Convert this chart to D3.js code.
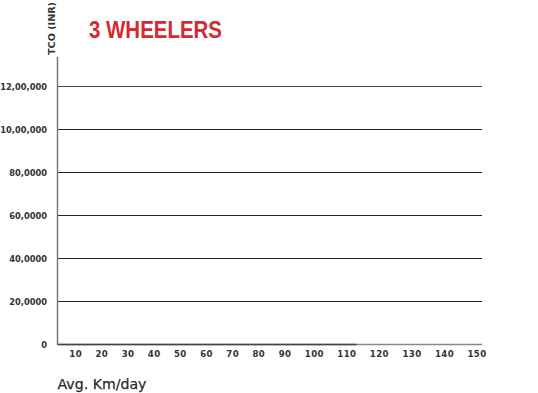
<!DOCTYPE html>
<html>
<head>
<meta charset="utf-8">
<script src="https://cdn.jsdelivr.net/npm/d3@7"></script>
<style>
  body { margin: 0; background: #fff; }
  svg { display: block; }
</style>
</head>
<body>
<div id="chart"></div>
<script>
const chartTitle = "3 WHEELERS";
const yTitle = "TCO (INR)";
const xTitle = "Avg. Km/day";
const kmPerDay = [10, 20, 30, 40, 50, 60, 70, 80, 90, 100, 110, 120, 130, 140, 150];
const tcoTicks = [0, 200000, 400000, 600000, 800000, 1000000, 1200000];
const tcoTickLabels = ["0", "20,0000", "40,0000", "60,0000", "80,0000", "10,00,000", "12,00,000"];
// the plotted series is flat at zero up to 110 km/day
const seriesKm = [10, 20, 30, 40, 50, 60, 70, 80, 90, 100, 110];
const seriesTco = [0, 0, 0, 0, 0, 0, 0, 0, 0, 0, 0];

const width = 538, height = 393;
const margin = {top: 57, right: 56, bottom: 49, left: 58};
const plotH = height - margin.top - margin.bottom;

const svg = d3.select("#chart").append("svg")
  .attr("width", width)
  .attr("height", height)
  .style("font-family", "'DejaVu Sans', sans-serif");

const y = d3.scaleLinear()
  .domain([0, 1200000 * (plotH / (plotH - 29))])
  .range([height - margin.bottom, margin.top]);

// gridlines
svg.append("g")
  .selectAll("line")
  .data(tcoTicks.slice(1))
  .enter().append("line")
  .attr("x1", margin.left)
  .attr("x2", width - margin.right)
  .attr("y1", d => y(d) + 0.5)
  .attr("y2", d => y(d) + 0.5)
  .attr("stroke", (d, i) => i === tcoTicks.length - 2 ? "#444" : "#222")
  .attr("stroke-width", 1.2);

// y tick labels
svg.append("g")
  .selectAll("text")
  .data(tcoTicks)
  .enter().append("text")
  .attr("x", 47)
  .attr("y", d => y(d) + 3.5)
  .attr("text-anchor", "end")
  .attr("font-size", 8.3)
  .attr("font-weight", "bold")
  .attr("fill", "#333")
  .text((d, i) => tcoTickLabels[i]);

// x tick labels laid out one after another with a fixed gap
const xLabels = svg.append("g")
  .selectAll("text")
  .data(kmPerDay)
  .enter().append("text")
  .attr("y", 357)
  .attr("font-size", 8.6)
  .attr("font-weight", "bold")
  .attr("letter-spacing", 0.4)
  .attr("fill", "#333")
  .text(d => d);

const gap = 13.4;
let cursor = 69.3;
const left = [], right = [];
xLabels.each(function() {
  const w = this.getComputedTextLength();
  left.push(cursor);
  right.push(cursor + w);
  cursor += w + gap;
});
const x = d3.scaleOrdinal().domain(kmPerDay).range(left);
const xEnd = d3.scaleOrdinal().domain(kmPerDay).range(right);
xLabels.attr("x", d => x(d));

// x axis baseline
svg.append("line")
  .attr("x1", margin.left)
  .attr("x2", width - margin.right)
  .attr("y1", y(0) + 0.5)
  .attr("y2", y(0) + 0.5)
  .attr("stroke", "#888")
  .attr("stroke-width", 1.5);

// zero series
const line = d3.line()
  .x((d, i) => i === 0 ? margin.left : xEnd(seriesKm[i]))
  .y(d => y(d) + 0.5);
svg.append("path")
  .datum(seriesTco)
  .attr("d", line)
  .attr("fill", "none")
  .attr("stroke", "#444")
  .attr("stroke-width", 1.5);

// y axis
svg.append("line")
  .attr("x1", margin.left - 0.5)
  .attr("x2", margin.left - 0.5)
  .attr("y1", margin.top)
  .attr("y2", y(0) + 1.2)
  .attr("stroke", "#7a7a7a")
  .attr("stroke-width", 1.5);

// titles
svg.append("text")
  .attr("transform", "translate(54.5,55) rotate(-90)")
  .attr("font-size", 8.8)
  .attr("font-weight", "bold")
  .attr("textLength", 53)
  .attr("lengthAdjust", "spacingAndGlyphs")
  .attr("fill", "#333")
  .text(yTitle);

svg.append("text")
  .attr("x", 89)
  .attr("y", 37.5)
  .attr("font-family", "'Liberation Sans', Arial, sans-serif")
  .attr("font-size", 23)
  .attr("font-weight", "bold")
  .attr("textLength", 133)
  .attr("lengthAdjust", "spacingAndGlyphs")
  .attr("fill", "#d42a32")
  .text(chartTitle);

svg.append("text")
  .attr("x", 57.5)
  .attr("y", 389)
  .attr("font-size", 14)
  .attr("textLength", 89)
  .attr("lengthAdjust", "spacingAndGlyphs")
  .attr("fill", "#2a2a2a")
  .attr("stroke", "#2a2a2a")
  .attr("stroke-width", 0.25)
  .text(xTitle);
</script>
</body>
</html>
